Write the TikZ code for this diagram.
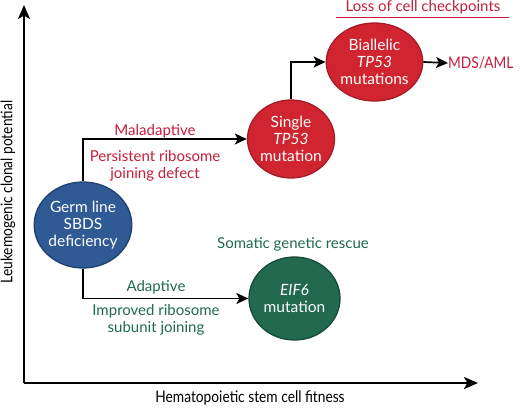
\documentclass[tikz,border=0pt]{standalone}
\usepackage{fontspec}
\setmainfont{Lato}
\usetikzlibrary{shapes.geometric,arrows.meta}
\definecolor{cred}{HTML}{D02430}
\definecolor{credb}{HTML}{A51C26}
\definecolor{tred}{HTML}{C41E3A}
\definecolor{cblue}{HTML}{2F5A94}
\definecolor{cblueb}{HTML}{1F406F}
\definecolor{cgreen}{HTML}{22694F}
\definecolor{cgreenb}{HTML}{164B38}
\definecolor{tgreen}{HTML}{1F6A4F}
\tikzset{
  bubble/.style={ellipse, draw, line width=1.3pt, inner sep=0pt, text=white, align=center,
    font=\fontsize{15.5}{17}\selectfont},
  redbubble/.style={bubble, fill=cred, draw=credb, minimum width=84pt, minimum height=78pt},
  lbl/.style={align=center, inner sep=0pt, font=\fontsize{15}{17}\selectfont},
  axlbl/.style={inner sep=0pt, font=\fontsize{16}{17}\selectfont},
  axisline/.style={line width=2.2pt, -{Stealth[length=14pt,width=12pt,inset=3.5pt]}},
  flow/.style={line width=1.7pt, -{Stealth[length=12pt,width=11pt,inset=3pt]}}
}
\begin{document}
\begin{tikzpicture}[x=1pt,y=-1pt]
\useasboundingbox (0,0) rectangle (520,408);
% axes
\coordinate (o) at (24,383);
\coordinate (ytop) at (24,5);
\coordinate (xend) at (478,383);
\draw[axisline] (o) -- (ytop);
\draw[axisline] (o) -- (xend);
\node[axlbl] (xlab) at (250,398) {\scalebox{0.86}[1]{Hematopoietic stem cell fitness}};
\node[axlbl, rotate=90] (ylab) at (8,192) {\scalebox{0.86}[1]{Leukemogenic clonal potential}};
% bubbles
\node[bubble, fill=cblue, draw=cblueb, minimum width=94pt, minimum height=86pt] (germ) at (83,225) {Germ line\\SBDS\\deficiency};
\node[redbubble] (single) at (291,139) {Single\\\textit{TP53}\\mutation};
\node[redbubble] (bi) at (374.5,62) {Biallelic\\\textit{TP53}\\mutations};
\node[bubble, fill=cgreen, draw=cgreenb, minimum width=91pt, minimum height=83pt] (eif) at (294.5,298.5) {\textit{EIF6}\\mutation};
\node[lbl, text=tred, anchor=west, font=\fontsize{16}{17}\selectfont] (mds) at (448,63) {\scalebox{0.86}[1]{MDS/AML}};
% connectors
\draw[flow] (germ.north) |- (single.west);
\draw[flow] (germ.south) |- (eif.west);
\draw[flow] (single.north) |- (bi.west);
\draw[flow] (bi.east) -- (mds.west);
% labels
\node[lbl, text=tred] (mal) at (155,131) {Maladaptive};
\node[lbl, text=tred] (pers) at (155,165.5) {Persistent ribosome\\joining defect};
\node[lbl, text=tgreen] (adap) at (156,287) {Adaptive};
\node[lbl, text=tgreen] (impr) at (156,319.5) {Improved ribosome\\subunit joining};
\node[lbl, text=tgreen] (som) at (293,244) {Somatic genetic rescue};
\node[lbl, text=tred] (loss) at (423,7) {Loss of cell checkpoints};
\coordinate (ul1) at (336,17.5);
\coordinate (ul2) at (509,17.5);
\draw[tred, line width=1.4pt] (ul1) -- (ul2);
\end{tikzpicture}
\end{document}
